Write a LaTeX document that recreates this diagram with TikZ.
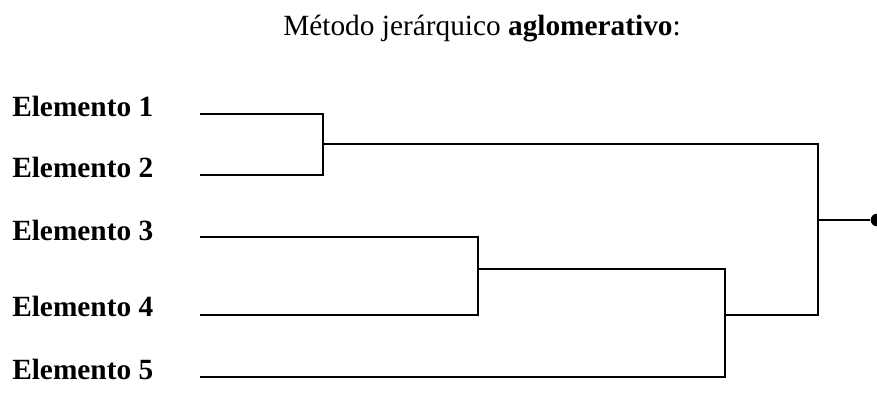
\documentclass[tikz,border=0pt]{standalone}
\usepackage{fontspec}
\setmainfont{Liberation Serif}
\usepackage{tikz}
\usetikzlibrary{calc,positioning}

\begin{document}
\begin{tikzpicture}[
        x=0.75pt, y=-0.75pt,
        title/.style={font=\fontsize{22}{26}\selectfont, anchor=base west, inner sep=0pt},
        leaftag/.style={font=\fontsize{22}{26}\selectfont\bfseries, anchor=base west, inner sep=0pt},
        link/.style={draw=black, line width=0.8pt},
        rootdot/.style={circle, fill=black, inner sep=0pt, minimum size=9.5pt}
      ]
        \useasboundingbox (0,0) rectangle (877,394);

        \node (header) [title] at (283,35) {Método jerárquico \textbf{aglomerativo}:};

        % leaves
        \node (e1) [leaftag] at (12,116) {Elemento 1};
        \node (e2) [leaftag] at (12,177) {Elemento 2};
        \node (e3) [leaftag] at (12,240) {Elemento 3};
        \node (e4) [leaftag] at (12,316) {Elemento 4};
        \node (e5) [leaftag] at (12,379) {Elemento 5};

        \coordinate (l1) at (200,114);
        \coordinate (l2) at (200,175);
        \coordinate (l3) at (200,237);
        \coordinate (l4) at (200,315);
        \coordinate (l5) at (200,377);

        % joins
        \coordinate (m12) at (323,144);
        \coordinate (m34) at (478,269);
        \coordinate (m345) at (725,315);
        \coordinate (mall) at (818,220);
        \node (root) [rootdot] at (877,220) {};

        \draw[link] (l1) -| (m12);
        \draw[link] (l2) -| (m12);
        \draw[link] (l3) -| (m34);
        \draw[link] (l4) -| (m34);
        \draw[link] (m34) -| (m345);
        \draw[link] (l5) -| (m345);
        \draw[link] (m12) -| (mall);
        \draw[link] (m345) -| (mall);
        \draw[link, line width=1.1pt] (mall) -- (root);
      \end{tikzpicture}
\end{document}
